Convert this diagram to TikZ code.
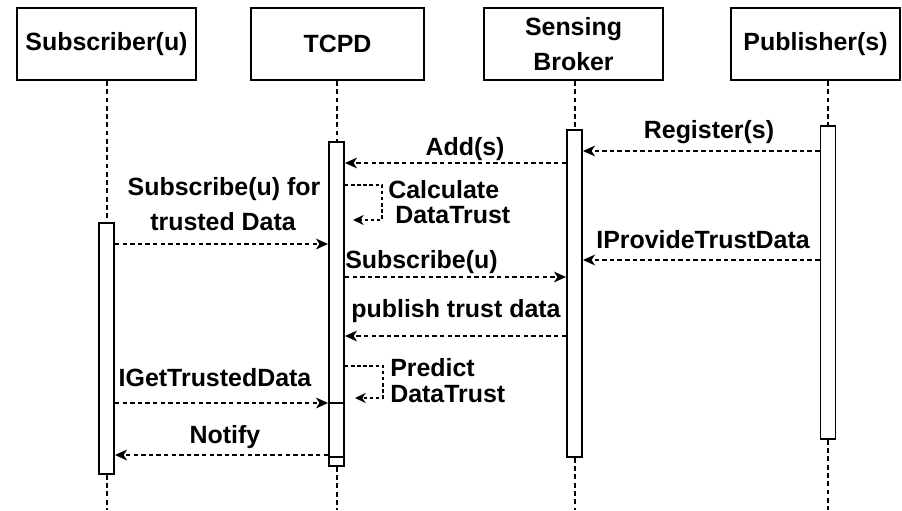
\documentclass[tikz,border=0pt]{standalone}
\usepackage{fontspec}
\setmainfont{Liberation Sans}
\usetikzlibrary{arrows.meta}
\begin{document}
\begin{tikzpicture}[x=0.75pt,y=-0.75pt,
  every node/.style={font=\fontsize{18.7pt}{22pt}\selectfont\bfseries},
  head/.style={draw, line width=1.5pt, minimum height=54pt, inner sep=0pt, align=center},
  act/.style={draw, fill=white, line width=1.4pt, minimum width=11.25pt, inner sep=0pt},
  life/.style={line width=1.5pt, dash pattern=on 3.6pt off 2.6pt},
  msg/.style={line width=1.4pt, dash pattern=on 3.4pt off 2.3pt, -{Stealth[length=9pt,width=8pt,inset=2.5pt]}},
  selfmsg/.style={line width=1.4pt, dash pattern=on 2.6pt off 2pt, -{Stealth[length=8pt,width=7.5pt,inset=2.5pt]}},
  lbl/.style={anchor=base, inner sep=0pt},
  tight/.style={text height=13.5pt, text depth=0pt}]
\useasboundingbox (0,0) rectangle (902,510);
% headers
\node[head, minimum width=134.25pt] (hs) at (106.5,44) {Subscriber(u)};
\node[head, minimum width=129.75pt] (ht) at (337.5,44) {TCPD};
\node[head, minimum width=134.25pt, font=\fontsize{18.7pt}{26pt}\selectfont\bfseries] (hb) at (573.5,44) {Sensing\\Broker};
\node[head, minimum width=126.75pt] (hp) at (815.5,44) {Publisher(s)};
% activations
\node[act, minimum height=188.25pt] (sa) at (106.5,348.5) {};
\node[act, minimum height=243pt] (ta) at (336.5,304) {};
\node[act, minimum height=40.5pt] (ta2) at (336.5,430) {};
\node[act, minimum height=245.25pt] (ba) at (574.5,293.5) {};
\node[act, minimum height=234.75pt] (pa) at (828,282.5) {};
% lifeline ends
\coordinate (se) at (106.5,510);
\coordinate (te) at (336.5,510);
\coordinate (be) at (574.5,510);
\coordinate (pe) at (828,510);
\draw[life] (sa.north |- hs.south) -- (sa.north);
\draw[life] (sa.south) -- (se);
\draw[life] (ta.north |- ht.south) -- (ta.north);
\draw[life] (ta.south) -- (te);
\draw[life] (ba.north |- hb.south) -- (ba.north);
\draw[life] (ba.south) -- (be);
\draw[life] (pa.north |- hp.south) -- (pa.north);
\draw[life] (pa.south) -- (pe);
% messages
\draw[msg] (pa.west |- 0,151) -- (ba.east |- 0,151);
\node[lbl] (l1) at (709,138) {Register(s)};
\draw[msg] (ba.west |- 0,163) -- (ta.east |- 0,163);
\node[lbl] (l2) at (465,155) {Add(s)};
\draw[selfmsg] (ta.east |- 0,185) -- (382,185) -- (382,220) -- (353,220);
\node[lbl, tight, anchor=base west] (l3) at (388,198) {Calculate};
\node[lbl, tight, anchor=base west] (l3b) at (395,223) {DataTrust};
\draw[msg] (sa.east |- 0,244) -- (ta.west |- 0,244);
\node[lbl] (l4) at (224,195) {Subscribe(u) for};
\node[lbl] (l4b) at (223,230) {trusted Data};
\draw[msg] (pa.west |- 0,260) -- (ba.east |- 0,260);
\node[lbl] (l5) at (703,248) {IProvideTrustData};
\draw[msg] (ta.east |- 0,277) -- (ba.west |- 0,277);
\node[lbl, anchor=base west] (l6) at (345,268) {Subscribe(u)};
\draw[msg] (ba.west |- 0,336) -- (ta.east |- 0,336);
\node[lbl] (l7) at (456,317) {publish trust data};
\draw[selfmsg] (ta.east |- 0,366) -- (383,366) -- (383,398) -- (355,398);
\node[lbl, tight, anchor=base west] (l8) at (390,376) {Predict};
\node[lbl, tight, anchor=base west] (l8b) at (390,402) {DataTrust};
\draw[msg] (sa.east |- 0,403) -- (ta.west |- 0,403);
\node[lbl] (l9) at (215,386) {IGetTrustedData};
\draw[msg] (ta.west |- 0,455) -- (sa.east |- 0,455);
\node[lbl] (l10) at (225,443) {Notify};
\end{tikzpicture}
\end{document}
